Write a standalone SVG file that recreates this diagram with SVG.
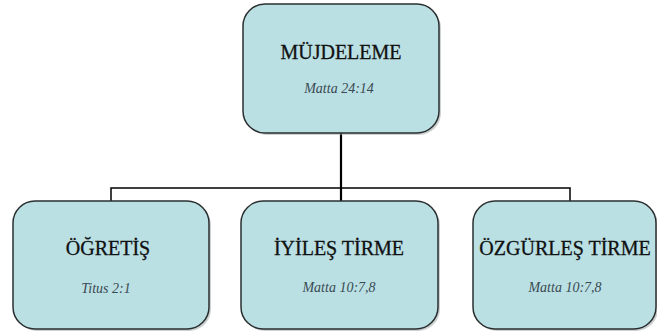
<svg xmlns="http://www.w3.org/2000/svg" width="657" height="336" viewBox="0 0 657 336">
<defs>
<style>
.box{fill:#bae0e4;stroke:#2b2f30;stroke-width:1.5}
.shadow{fill:#9aa4a6;opacity:0.5}
.title{font-size:20px;fill:#111;text-anchor:middle;stroke:#111;stroke-width:0.3}
.sub{font-size:14px;font-style:italic;fill:#3a4a52;text-anchor:middle}
.conn{fill:none;stroke:#000}
</style>
</defs>
<rect width="657" height="336" fill="#fff"/>
<g id="connectors">
<line class="conn" x1="341" y1="133" x2="341" y2="201" stroke-width="2.2"/>
<polyline class="conn" points="111,201 111,188 570,188 570,201" stroke-width="1.5"/>
</g>
<g font-family="Liberation Serif, Times New Roman, DejaVu Serif, serif">
<g id="mujdeleme">
<rect class="shadow" x="245" y="6" width="196" height="129" rx="22"/>
<rect class="box" x="243" y="4" width="196" height="129" rx="22"/>
<text class="title" x="341" y="59" font-size="22">MÜJDELEME</text>
<text class="sub" x="339" y="93">Matta 24:14</text>
</g>
<g id="ogretis">
<rect class="shadow" x="15" y="203" width="196" height="128" rx="22"/>
<rect class="box" x="13" y="201" width="196" height="128" rx="22"/>
<text class="title" x="108" y="255">ÖĞRETİŞ</text>
<text class="sub" x="106" y="293">Titus 2:1</text>
</g>
<g id="iyilestirme">
<rect class="shadow" x="243" y="203" width="197" height="128" rx="22"/>
<rect class="box" x="241" y="201" width="197" height="128" rx="22"/>
<text class="title" x="339" y="255">İYİLEŞ TİRME</text>
<text class="sub" x="339" y="292">Matta 10:7,8</text>
</g>
<g id="ozgurlestirme">
<rect class="shadow" x="475" y="203" width="183" height="128" rx="22"/>
<rect class="box" x="473" y="201" width="183" height="128" rx="22"/>
<text class="title" x="565" y="255">ÖZGÜRLEŞ TİRME</text>
<text class="sub" x="565" y="292">Matta 10:7,8</text>
</g>
</g>
</svg>
